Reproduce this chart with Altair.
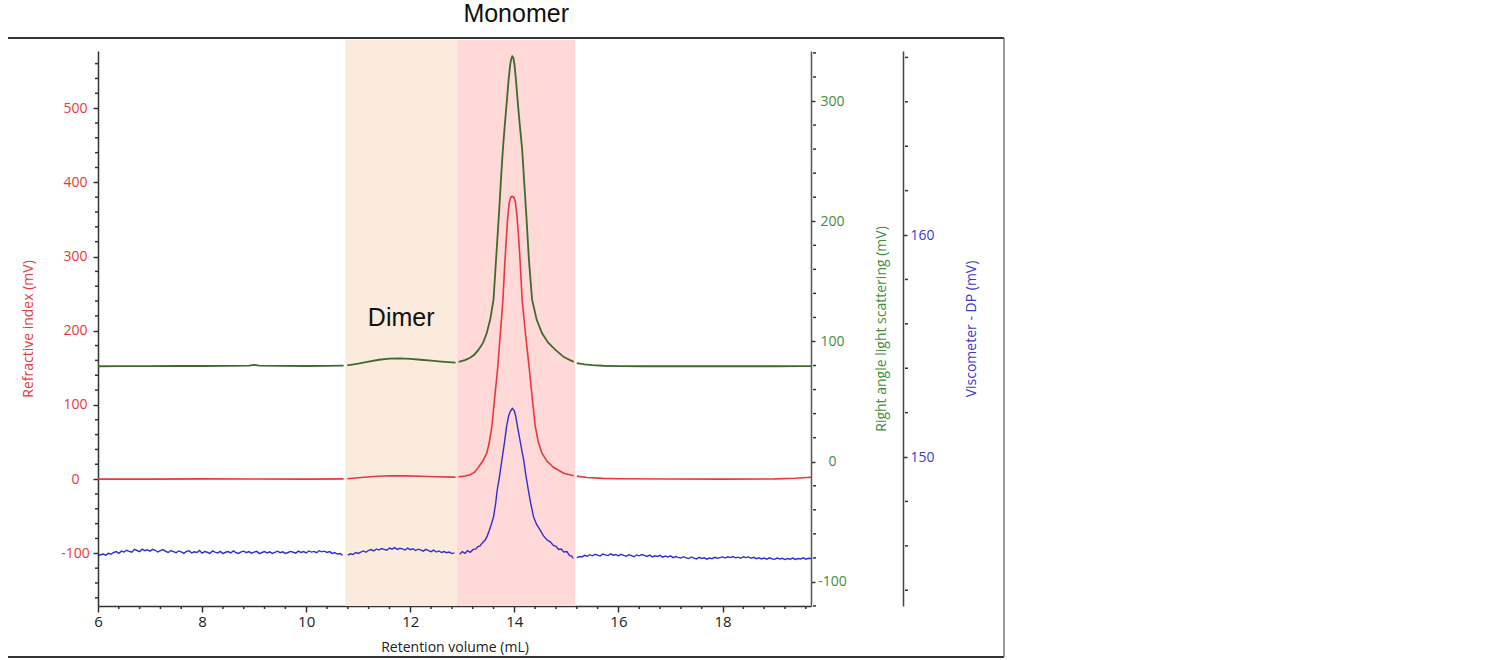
import altair as alt
import pandas as pd

# ---------------- data ----------------
x_ticks = [6, 8, 10, 12, 14, 16, 18]
x_minor = [6.4, 6.8, 7.2, 7.6, 8.4, 8.8, 9.2, 9.6, 10.4, 10.8, 11.2, 11.6, 12.4, 12.8,
           13.2, 13.6, 14.4, 14.8, 15.2, 15.6, 16.4, 16.8, 17.2, 17.6, 18.4, 18.8, 19.2, 19.6]
ri_ticks = [-100, 0, 100, 200, 300, 400, 500]
ri_minor = [-160, -140, -120, -80, -60, -40, -20, 20, 40, 60, 80, 120, 140, 160, 180,
            220, 240, 260, 280, 320, 340, 360, 380, 420, 440, 460, 480, 520, 540, 560]
ls_ticks = [-100, 0, 100, 200, 300]
ls_minor = [-120, -80, -60, -40, -20, 20, 40, 60, 80, 120, 140, 160, 180,
            220, 240, 260, 280, 320, 340]
dp_ticks = [150, 160]
dp_minor = [144, 146, 148, 152, 154, 156, 158, 162, 164, 166, 168]

regions = ["Dimer", "Monomer"]
region_start = [10.75, 12.90]
region_end = [12.90, 15.17]

# Right angle light scattering (mV)
ls_x = [6.0, 6.5, 7.0, 7.5, 8.0, 8.5, 8.9, 9.0, 9.1, 9.5, 10.0, 10.4, 10.72,
        10.79, 11.0, 11.2, 11.4, 11.6, 11.8, 12.0, 12.2, 12.4, 12.6, 12.87,
        12.93, 13.05, 13.15, 13.23, 13.31, 13.4, 13.47, 13.54, 13.60, 13.66, 13.71, 13.75,
        13.78, 13.82, 13.86, 13.89, 13.92, 13.94, 13.96, 13.98, 14.00, 14.03, 14.06, 14.10,
        14.15, 14.19, 14.23, 14.28, 14.34, 14.43, 14.53, 14.65, 14.79, 14.95, 15.14,
        15.2, 15.35, 15.5, 15.7, 16.0, 16.5, 17.0, 17.5, 18.0, 18.5, 19.0, 19.5, 19.7]
ls_v = [79.4, 79.5, 79.5, 79.6, 79.6, 79.7, 79.9, 80.6, 79.9, 79.7, 79.6, 79.7, 79.9,
        80.2, 81.5, 83.2, 84.8, 85.8, 86.0, 85.6, 84.8, 84.0, 83.3, 82.5,
        83.0, 84.5, 86.5, 89.0, 93.0, 99.0, 107, 119, 135, 176, 210, 240,
        260, 282, 302, 318, 330, 335, 337, 336, 331, 318, 302, 282,
        260, 232, 205, 168, 135, 118, 107, 99, 93, 87, 83,
        82.0, 81.0, 80.3, 79.8, 79.5, 79.4, 79.4, 79.4, 79.4, 79.4, 79.4, 79.5, 79.5]

# Refractive index (mV)
ri_x = [6.0, 7.0, 8.0, 9.0, 10.0, 10.72,
        10.79, 11.0, 11.3, 11.6, 11.9, 12.2, 12.5, 12.87,
        12.93, 13.05, 13.15, 13.23, 13.31, 13.40, 13.47, 13.52, 13.57, 13.62, 13.68, 13.73,
        13.78, 13.81, 13.84, 13.87, 13.90, 13.93, 13.96, 13.99, 14.02, 14.05, 14.08, 14.11,
        14.15, 14.22, 14.29, 14.34, 14.40, 14.46, 14.53, 14.63, 14.75, 14.95, 15.14,
        15.2, 15.4, 15.7, 16.0, 17.0, 18.0, 19.0, 19.4, 19.7]
ri_v = [0, 0, 0.3, 0.2, 0, 0.3,
        0.6, 1.8, 3.5, 4.5, 4.4, 3.8, 3.2, 2.7,
        3.0, 4.2, 6.0, 9.0, 16, 25, 35, 50, 72, 108, 150, 195,
        241, 282, 318, 350, 372, 380, 381, 380, 374, 355, 328, 295,
        241, 192, 147, 112, 72, 50, 35, 24, 16, 8, 4.5,
        4.0, 2.2, 1.0, 0.5, 0.1, 0, 0.3, 1.2, 2.5]

# Viscometer - DP (mV): baseline before the dimer, dimer, monomer peak, after
dp_x1 = [round(6.0 + 0.05 * i, 2) for i in range(95)]
dp_v1 = [145.54, 145.60, 145.63, 145.58, 145.66, 145.62, 145.70, 145.74, 145.66, 145.76,
         145.72, 145.80, 145.75, 145.71, 145.84, 145.79, 145.74, 145.85, 145.78, 145.82,
         145.76, 145.84, 145.80, 145.72, 145.78, 145.83, 145.75, 145.70, 145.79, 145.74,
         145.69, 145.77, 145.73, 145.66, 145.75, 145.78, 145.68, 145.73, 145.70, 145.79,
         145.67, 145.74, 145.71, 145.66, 145.77, 145.72, 145.68, 145.75, 145.65, 145.71,
         145.74, 145.68, 145.77, 145.70, 145.66, 145.73, 145.76, 145.69, 145.74, 145.67,
         145.72, 145.75, 145.65, 145.70, 145.74, 145.68, 145.73, 145.66, 145.71, 145.76,
         145.69, 145.73, 145.66, 145.70, 145.75, 145.71, 145.67, 145.76, 145.70, 145.74,
         145.68, 145.77, 145.72, 145.75, 145.69, 145.78, 145.73, 145.76, 145.70, 145.74,
         145.66, 145.70, 145.63, 145.65, 145.58]
dp_x2 = [round(10.8 + 0.05 * i, 2) for i in range(42)]
dp_v2 = [145.58, 145.64, 145.61, 145.70, 145.66, 145.72, 145.77, 145.71, 145.80, 145.83,
         145.77, 145.86, 145.81, 145.88, 145.84, 145.80, 145.90, 145.85, 145.92, 145.84,
         145.89, 145.86, 145.81, 145.90, 145.83, 145.87, 145.79, 145.85, 145.82, 145.76,
         145.84, 145.78, 145.74, 145.81, 145.72, 145.77, 145.70, 145.74, 145.69, 145.72,
         145.65, 145.68]
dp_x3 = [12.95, 13.00, 13.05, 13.10, 13.15, 13.21, 13.26, 13.30, 13.34, 13.38,
         13.44, 13.48, 13.52, 13.56, 13.60, 13.64, 13.67, 13.72, 13.76, 13.81,
         13.85, 13.89, 13.92, 13.96, 14.00, 14.03, 14.06, 14.09, 14.12, 14.15,
         14.18, 14.22, 14.27, 14.32, 14.37, 14.43, 14.50, 14.56, 14.63, 14.69,
         14.75, 14.80, 14.85, 14.90, 14.95, 15.01, 15.06, 15.10, 15.13]
dp_v3 = [145.62, 145.74, 145.66, 145.78, 145.71, 145.84, 145.86, 145.97, 146.00, 146.12,
         146.26, 146.45, 146.70, 146.98, 147.30, 147.90, 148.50, 149.20, 149.86, 150.65,
         151.37, 151.85, 152.05, 152.19, 152.08, 151.80, 151.37, 151.00, 150.60, 150.22,
         149.86, 149.20, 148.50, 147.85, 147.30, 146.95, 146.70, 146.45, 146.26, 146.18,
         146.02, 145.98, 145.84, 145.86, 145.72, 145.74, 145.56, 145.55, 145.43]
dp_x4 = [round(15.2 + 0.05 * i, 2) for i in range(91)]
dp_v4 = [145.46, 145.52, 145.50, 145.57, 145.53, 145.60, 145.55, 145.62, 145.58, 145.54,
         145.63, 145.59, 145.56, 145.64, 145.58, 145.61, 145.55, 145.62, 145.57, 145.53,
         145.60, 145.56, 145.51, 145.59, 145.55, 145.61, 145.57, 145.52, 145.58, 145.50,
         145.55, 145.52, 145.57, 145.49, 145.54, 145.50, 145.55, 145.47, 145.52, 145.48,
         145.45, 145.51, 145.46, 145.43, 145.50, 145.45, 145.41, 145.48, 145.43, 145.46,
         145.40, 145.45, 145.42, 145.48, 145.44, 145.47, 145.50, 145.45, 145.51, 145.47,
         145.52, 145.46, 145.49, 145.44, 145.51, 145.47, 145.50, 145.44, 145.48, 145.42,
         145.46, 145.41, 145.45, 145.40, 145.46, 145.42, 145.39, 145.45, 145.41, 145.44,
         145.38, 145.43, 145.40, 145.45, 145.39, 145.43, 145.41, 145.46, 145.40, 145.44,
         145.43]

# ---------------- layout / styles ----------------
W, H = 713, 555
X_DOMAIN = [6, 19.7]
RI_DOMAIN = [-171, 577]
LS_DOMAIN = [-120, 341.6]
DP_DOMAIN = [143.29, 168.29]

RED = "#e8383d"
GREEN_LINE = "#3e6b2c"
GREEN_TXT = "#3f8f3f"
BLUE = "#3030d0"
BLUE_TXT = "#3a3ad0"
AX = "#333333"
FONT = "Open Sans"
PLAIN = "'' + datum.value"   # hyphen-minus instead of the typographic minus

BOUNDS = region_start + [region_end[-1]]


def series(xs_, vs_):
    segs = [sum(1 for b in BOUNDS if x >= b) for x in xs_]
    return pd.DataFrame({"x": xs_, "v": vs_, "seg": segs})


x_axis = alt.Axis(values=x_ticks, tickSize=6, tickColor=AX, tickWidth=1.5, domainColor=AX, domainWidth=1.5,
                  labelFont=FONT, labelFontSize=15, labelColor="#222222", labelPadding=2, labelFlush=False,
                  labelExpr=PLAIN,
                  title="Retention volume (mL)", titleFont=FONT, titleFontSize=14, titleFontWeight="normal",
                  titleColor="#222222", titleY=41, titleBaseline="middle", grid=False)


def X(field):
    return alt.X(field, scale=alt.Scale(domain=X_DOMAIN, nice=False, zero=False), axis=x_axis)


def ysc(d):
    return alt.Scale(domain=d, nice=False, zero=False)


reg_df = pd.DataFrame({"name": regions, "start": region_start, "end": region_end})
reg_df["mid"] = (reg_df["start"] + reg_df["end"]) / 2

one = alt.Data(values=[{}])

# shading
shade = alt.Chart(reg_df).mark_rect().encode(
    x=X("start:Q"),
    x2="end:Q",
    y=alt.value(-11),
    y2=alt.value(H),
    color=alt.Color("name:N", scale=alt.Scale(domain=regions, range=["#fbebdc", "#ffd8d8"]), legend=None),
)

ri_axis = alt.Axis(values=ri_ticks, orient="left", tickSize=5, tickColor=AX, tickWidth=1.5, domainColor=AX,
                   domainWidth=1.5, labelAlign="center", labelPadding=18, labelFont=FONT, labelFontSize=14,
                   labelColor=RED, labelExpr=PLAIN, title="Refractive index (mV)", titleColor=RED, titleFont=FONT,
                   titleFontSize=14, titleFontWeight="normal", titleAngle=270, titleX=-70, titleY=H / 2,
                   titleAlign="center", titleBaseline="middle", grid=False)

ls_axis = alt.Axis(values=ls_ticks, orient="right", tickSize=4, tickColor=AX, tickWidth=1.5, domainColor="#555555",
                   domainWidth=1.5, labelAlign="center", labelPadding=17, labelFont=FONT, labelFontSize=14,
                   labelColor=GREEN_TXT, labelExpr=PLAIN, title="Right angle light scattering (mV)",
                   titleColor=GREEN_TXT, titleFont=FONT, titleFontSize=14, titleFontWeight="normal",
                   titleAngle=270, titleX=70, titleY=H / 2, titleAlign="center", titleBaseline="middle", grid=False)

dp_axis = alt.Axis(values=dp_ticks, orient="right", offset=92, tickSize=4, tickColor=AX, tickWidth=1.5,
                   domainColor="#444444", domainWidth=1.5, labelAlign="left", labelPadding=3, labelFont=FONT,
                   labelFontSize=14, labelColor=BLUE_TXT, labelExpr=PLAIN, title="Viscometer - DP (mV)",
                   titleColor=BLUE_TXT, titleFont=FONT, titleFontSize=14, titleFontWeight="normal",
                   titleAngle=270, titleX=68, titleY=H / 2, titleAlign="center", titleBaseline="middle", grid=False)

# minor ticks
x_minor_l = alt.Chart(pd.DataFrame({"t": x_minor})).mark_rule(color=AX, strokeWidth=1.5).encode(
    x=X("t:Q"), y=alt.value(H), y2=alt.value(H + 3))
ri_minor_l = alt.Chart(pd.DataFrame({"t": ri_minor})).mark_rule(color=AX, strokeWidth=1.5).encode(
    y=alt.Y("t:Q", scale=ysc(RI_DOMAIN), axis=None), x=alt.value(-3), x2=alt.value(0))
ls_minor_l = alt.Chart(pd.DataFrame({"t": ls_minor})).mark_rule(color=AX, strokeWidth=1.5).encode(
    y=alt.Y("t:Q", scale=ysc(LS_DOMAIN), axis=None), x=alt.value(W + 2), x2=alt.value(W + 5))
dp_minor_l = alt.Chart(pd.DataFrame({"t": dp_minor})).mark_rule(color=AX, strokeWidth=1.5).encode(
    y=alt.Y("t:Q", scale=ysc(DP_DOMAIN), axis=None), x=alt.value(W + 94), x2=alt.value(W + 97))

# lines
ri_line = alt.Chart(series(ri_x, ri_v)).mark_line(color=RED, strokeWidth=1.6).encode(
    x=X("x:Q"), y=alt.Y("v:Q", scale=ysc(RI_DOMAIN), axis=ri_axis), detail="seg:N")
ls_line = alt.Chart(series(ls_x, ls_v)).mark_line(color=GREEN_LINE, strokeWidth=1.8).encode(
    x=X("x:Q"), y=alt.Y("v:Q", scale=ysc(LS_DOMAIN), axis=ls_axis), detail="seg:N")
dp_line = alt.Chart(series(dp_x1 + dp_x2 + dp_x3 + dp_x4, dp_v1 + dp_v2 + dp_v3 + dp_v4)).mark_line(
    color=BLUE, strokeWidth=1.4).encode(
    x=X("x:Q"), y=alt.Y("v:Q", scale=ysc(DP_DOMAIN), axis=dp_axis), detail="seg:N")

# labels
mono_txt = alt.Chart(reg_df).transform_filter(alt.datum.name == "Monomer").mark_text(
    font="Liberation Sans", fontSize=25, color="#111111", baseline="middle").encode(
    x=X("mid:Q"), y=alt.value(-37), text="name:N")
dimer_txt = alt.Chart(reg_df).transform_filter(alt.datum.name == "Dimer").mark_text(
    font="Liberation Sans", fontSize=25, color="#111111", baseline="middle").encode(
    x=X("mid:Q"), y=alt.value(267), text="name:N")

# outer frame
frame_top = alt.Chart(one).mark_rule(color=AX, strokeWidth=2).encode(
    x=alt.value(-90), x2=alt.value(906), y=alt.value(-13))
frame_bottom = alt.Chart(one).mark_rule(color=AX, strokeWidth=2).encode(
    x=alt.value(-90), x2=alt.value(906), y=alt.value(606))
frame_right = alt.Chart(one).mark_rule(color="#777777", strokeWidth=1.5).encode(
    x=alt.value(906), y=alt.value(-13), y2=alt.value(606))

chart = alt.layer(
    shade, x_minor_l, ri_minor_l, ls_minor_l, dp_minor_l,
    ri_line, ls_line, dp_line, mono_txt, dimer_txt,
    frame_top, frame_bottom, frame_right,
).resolve_scale(y="independent").properties(
    width=W, height=H,
    padding={"left": 98, "top": 51, "right": 1500 - 98 - W, "bottom": 660 - 51 - H},
    autosize=alt.AutoSizeParams(type="none"),
    background="white",
).configure_view(stroke=None)

chart.save("out.html", embed_options={"renderer": "svg", "actions": False})
